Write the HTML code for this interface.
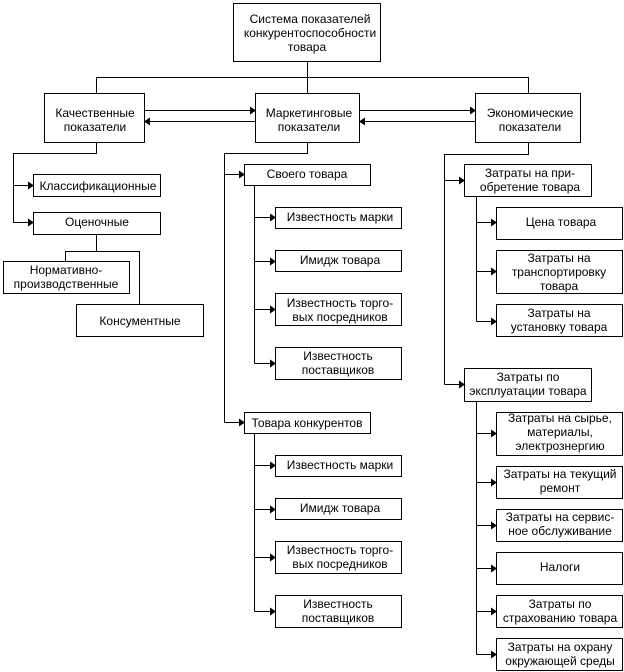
<!DOCTYPE html>
<html><head><meta charset="utf-8"><style>
html,body{margin:0;padding:0;background:#fff;width:624px;height:672px;overflow:hidden}
svg text{font-family:"Liberation Sans",sans-serif;font-size:12px;fill:#000;text-anchor:middle}
</style></head><body>
<svg width="624" height="672" viewBox="0 0 624 672" xmlns="http://www.w3.org/2000/svg">
<defs>
<marker id="a" markerWidth="6" markerHeight="8" refX="5" refY="4" orient="auto" markerUnits="userSpaceOnUse"><path d="M0,0 L6,4 L0,8 z" fill="#000"/></marker>
</defs>
<g fill="#fff" stroke="#000" stroke-width="1">
<rect x="233.5" y="3.5" width="147" height="58"/>
<rect x="44.5" y="93.5" width="100" height="49"/>
<rect x="255.5" y="93.5" width="104" height="49"/>
<rect x="475.5" y="93.5" width="105" height="49"/>
<rect x="33.5" y="174.5" width="127" height="22"/>
<rect x="33.5" y="212.5" width="127" height="22"/>
<rect x="3.5" y="261.5" width="126" height="32"/>
<rect x="76.5" y="304.5" width="127" height="32"/>
<rect x="244.5" y="164.5" width="126" height="21"/>
<rect x="275.5" y="207.5" width="126" height="21"/>
<rect x="275.5" y="250.5" width="126" height="21"/>
<rect x="275.5" y="293.5" width="126" height="32"/>
<rect x="275.5" y="347.5" width="126" height="32"/>
<rect x="244.5" y="412.5" width="126" height="21"/>
<rect x="275.5" y="455.5" width="126" height="21"/>
<rect x="275.5" y="498.5" width="126" height="21"/>
<rect x="275.5" y="541.5" width="126" height="32"/>
<rect x="275.5" y="595.5" width="126" height="32"/>
<rect x="464.5" y="164.5" width="127" height="32"/>
<rect x="496.5" y="207.5" width="126" height="32"/>
<rect x="496.5" y="250.5" width="126" height="43"/>
<rect x="496.5" y="304.5" width="126" height="32"/>
<rect x="464.5" y="368.5" width="127" height="33"/>
<rect x="496.5" y="412.5" width="126" height="43"/>
<rect x="496.5" y="466.5" width="126" height="32"/>
<rect x="496.5" y="509.5" width="126" height="32"/>
<rect x="496.5" y="552.5" width="126" height="32"/>
<rect x="496.5" y="595.5" width="126" height="32"/>
<rect x="496.5" y="638.5" width="126" height="32"/>
</g>
<g fill="none" stroke="#000" stroke-width="1">
<path d="M307.5 61V93M96.5 93V77.5H528.5V93"/>
<path d="M144 110.5H255" marker-end="url(#a)"/>
<path d="M255 121.5H145" marker-end="url(#a)"/>
<path d="M359 110.5H475" marker-end="url(#a)"/>
<path d="M475 121.5H360" marker-end="url(#a)"/>
<path d="M96.5 142V153.5H13.5V222.5"/>
<path d="M13.5 185.5H33" marker-end="url(#a)"/>
<path d="M13.5 222.5H33" marker-end="url(#a)"/>
<path d="M96.5 234V251.5M65.5 261V251.5H139.5V304"/>
<path d="M307.5 142V153.5H224.5V422.5"/>
<path d="M224.5 174.5H244" marker-end="url(#a)"/>
<path d="M224.5 422.5H244" marker-end="url(#a)"/>
<path d="M254.5 185V363.5"/>
<path d="M254.5 217.5H275" marker-end="url(#a)"/>
<path d="M254.5 261.5H275" marker-end="url(#a)"/>
<path d="M254.5 309.5H275" marker-end="url(#a)"/>
<path d="M254.5 363.5H275" marker-end="url(#a)"/>
<path d="M254.5 433V611.5"/>
<path d="M254.5 465.5H275" marker-end="url(#a)"/>
<path d="M254.5 509.5H275" marker-end="url(#a)"/>
<path d="M254.5 557.5H275" marker-end="url(#a)"/>
<path d="M254.5 611.5H275" marker-end="url(#a)"/>
<path d="M528.5 142V154.5H444.5V384.5"/>
<path d="M444.5 180.5H464" marker-end="url(#a)"/>
<path d="M444.5 384.5H464" marker-end="url(#a)"/>
<path d="M476.5 196V321.5"/>
<path d="M476.5 222.5H496" marker-end="url(#a)"/>
<path d="M476.5 271.5H496" marker-end="url(#a)"/>
<path d="M476.5 321.5H496" marker-end="url(#a)"/>
<path d="M476.5 401V654.5"/>
<path d="M476.5 433.5H496" marker-end="url(#a)"/>
<path d="M476.5 482.5H496" marker-end="url(#a)"/>
<path d="M476.5 525.5H496" marker-end="url(#a)"/>
<path d="M476.5 568.5H496" marker-end="url(#a)"/>
<path d="M476.5 611.5H496" marker-end="url(#a)"/>
<path d="M476.5 654.5H496" marker-end="url(#a)"/>
</g>
<g>
<text x="310" y="23">Система показателей</text>
<text x="310" y="37">конкурентоспособности</text>
<text x="307" y="51">товара</text>
<text x="95" y="117">Качественные</text>
<text x="95" y="131">показатели</text>
<text x="309" y="117">Маркетинговые</text>
<text x="309" y="131">показатели</text>
<text x="530" y="117">Экономические</text>
<text x="530" y="131">показатели</text>
<text x="98" y="190">Классификационные</text>
<text x="97" y="226">Оценочные</text>
<text x="66" y="274">Нормативно-</text>
<text x="66" y="288">производственные</text>
<text x="140" y="325">Консументные</text>
<text x="307" y="178">Своего товара</text>
<text x="340" y="221">Известность марки</text>
<text x="340" y="264">Имидж товара</text>
<text x="340" y="307">Известность торго-</text>
<text x="340" y="321">вых посредников</text>
<text x="338" y="360">Известность</text>
<text x="338" y="374">поставщиков</text>
<text x="307" y="427">Товара конкурентов</text>
<text x="340" y="469">Известность марки</text>
<text x="340" y="512">Имидж товара</text>
<text x="340" y="554">Известность торго-</text>
<text x="340" y="568">вых посредников</text>
<text x="338" y="608">Известность</text>
<text x="338" y="622">поставщиков</text>
<text x="530" y="177">Затраты на при-</text>
<text x="530" y="191">обретение товара</text>
<text x="561" y="226">Цена товара</text>
<text x="559" y="262">Затраты на</text>
<text x="559" y="276">транспортировку</text>
<text x="559" y="290">товара</text>
<text x="559" y="317">Затраты на</text>
<text x="559" y="331">установку товара</text>
<text x="528" y="381">Затраты по</text>
<text x="528" y="395">эксплуатации товара</text>
<text x="560" y="422">Затраты на сырье,</text>
<text x="560" y="436">материалы,</text>
<text x="560" y="450">электрознергию</text>
<text x="560" y="478">Затраты на текущий</text>
<text x="560" y="492">ремонт</text>
<text x="560" y="521">Затраты на сервис-</text>
<text x="560" y="535">ное обслуживание</text>
<text x="560" y="571">Налоги</text>
<text x="560" y="608">Затраты по</text>
<text x="560" y="622">страхованию товара</text>
<text x="560" y="651">Затраты на охрану</text>
<text x="560" y="665">окружающей среды</text>
</g>
</svg>
</body></html>
